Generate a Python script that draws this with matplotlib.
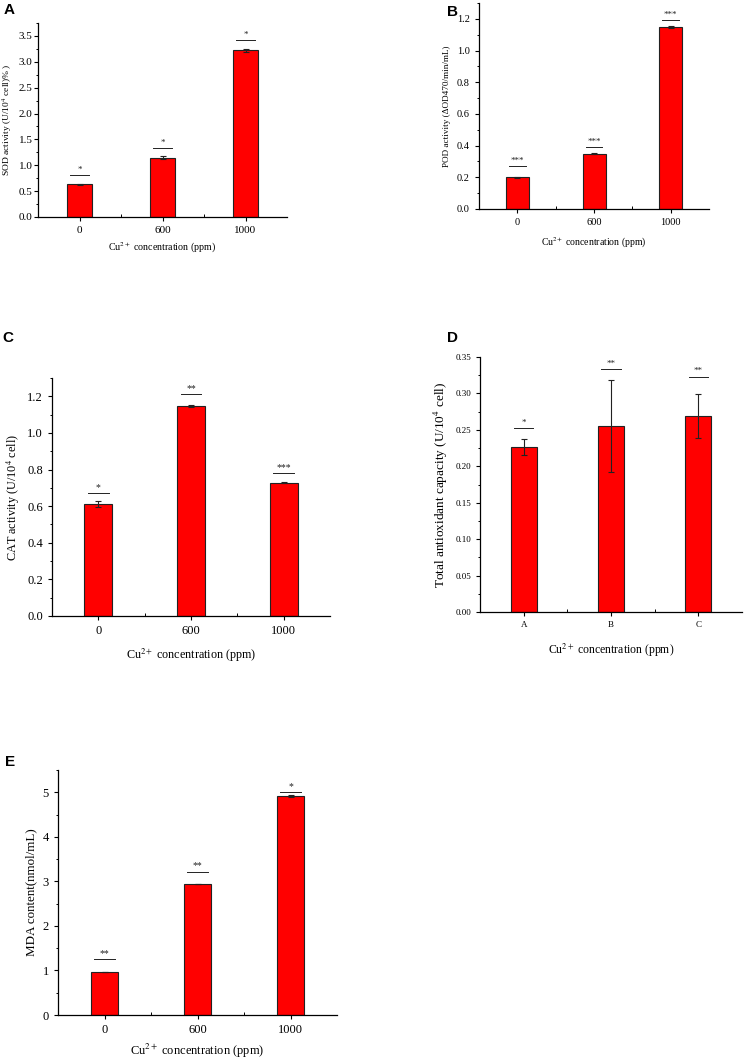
import matplotlib.pyplot as plt
from matplotlib.ticker import MultipleLocator, FixedLocator

plt.rcParams['font.family'] = ['Liberation Serif', 'DejaVu Serif']
plt.rcParams['mathtext.fontset'] = 'stix'

W, H = 744, 1060

# data
conc = ["0", "600", "1000"]
groups_d = ["A", "B", "C"]

sod = [0.63, 1.15, 3.22]
sod_err = [0.01, 0.025, 0.03]
sod_sig = [0.81, 1.34, 3.42]
sod_stars = ["*", "*", "*"]

pod = [0.20, 0.35, 1.15]
pod_err = [0.003, 0.003, 0.006]
pod_sig = [0.27, 0.39, 1.19]
pod_stars = ["***", "***", "***"]

cat = [0.612, 1.148, 0.728]
cat_err = [0.014, 0.004, 0.002]
cat_sig = [0.67, 1.21, 0.78]
cat_stars = ["*", "**", "***"]

tac = [0.226, 0.255, 0.269]
tac_err = [0.011, 0.063, 0.030]
tac_sig = [0.252, 0.333, 0.323]
tac_stars = ["*", "**", "**"]

mda = [0.97, 2.94, 4.91]
mda_err = [0.005, 0.01, 0.02]
mda_sig = [1.25, 3.22, 5.0]
mda_stars = ["**", "**", "*"]


def add_ax(l, r, t, b):
    return fig.add_axes([l / W, 1 - b / H, (r - l) / W, (b - t) / H])


def panel(ax, labels, vals, errs, sig, stars, ylim, major, ylabel,
          fs_tick, fs_lab, fs_ylab, fs_star, xpad=7, ypad=4, tpad=3.5):
    x = [1, 2, 3]
    ax.bar(x, vals, width=0.3, color="#ff0000", edgecolor="#222222", linewidth=0.8, zorder=2)
    ax.errorbar(x, vals, yerr=errs, fmt="none", ecolor="#222222", elinewidth=0.8,
                capsize=2, capthick=0.8, zorder=3)
    for xi, yi, s in zip(x, sig, stars):
        ax.plot([xi - 0.11, xi + 0.11], [yi, yi], color="#222222", lw=0.7)
        ax.text(xi, yi + 0.006 * ylim, s, ha="center", va="bottom", fontsize=fs_star, color="#222222")
    ax.set_xlim(0.5, 3.5)
    ax.set_ylim(0, ylim)
    ax.set_xticks(x)
    ax.set_xticklabels(labels)
    ax.xaxis.set_minor_locator(FixedLocator([1.5, 2.5]))
    ax.yaxis.set_major_locator(MultipleLocator(major))
    ax.yaxis.set_minor_locator(MultipleLocator(major / 2))
    ax.tick_params(axis="both", which="major", direction="out", length=3, width=0.8, labelsize=fs_tick)
    ax.tick_params(axis="y", which="major", pad=tpad)
    ax.tick_params(axis="y", which="minor", direction="out", length=1.8, width=0.7)
    ax.tick_params(axis="x", which="minor", direction="in", length=2, width=0.7)
    for s in ["top", "right"]:
        ax.spines[s].set_visible(False)
    for s in ["left", "bottom"]:
        ax.spines[s].set_linewidth(0.9)
    ax.set_xlabel("Cu$^{2+}$ concentration (ppm)", fontsize=fs_lab, labelpad=xpad)
    ax.set_ylabel(ylabel, fontsize=fs_ylab, labelpad=ypad)


fig = plt.figure(figsize=(W / 100, H / 100), dpi=100)

axA = add_ax(38, 287, 23, 217)
panel(axA, conc, sod, sod_err, sod_sig, sod_stars, 3.75, 0.5,
      "SOD activity (U/10$^4$ cell)% )", 8, 7.2, 6.8, 6.5, xpad=4, ypad=3, tpad=1)
axA.yaxis.set_major_formatter(plt.FormatStrFormatter("%.1f"))

axB = add_ax(479, 709, 3, 209)
panel(axB, conc, pod, pod_err, pod_sig, pod_stars, 1.3, 0.2,
      "POD activity (ΔOD470/min/mL)", 7.5, 7, 6.6, 6.5, xpad=6)
axB.yaxis.set_major_formatter(plt.FormatStrFormatter("%.1f"))

axC = add_ax(52, 330, 378, 616)
panel(axC, conc, cat, cat_err, cat_sig, cat_stars, 1.3, 0.2,
      "CAT activity (U/10$^4$ cell)", 9, 8.7, 8.8, 7)
axC.yaxis.set_major_formatter(plt.FormatStrFormatter("%.1f"))

axD = add_ax(480, 742, 357, 612)
panel(axD, groups_d, tac, tac_err, tac_sig, tac_stars, 0.35, 0.05,
      "Total antioxidant capacity (U/10$^4$ cell)", 6.5, 8.5, 9.5, 6.5, xpad=9)
axD.yaxis.set_major_formatter(plt.FormatStrFormatter("%.2f"))

axE = add_ax(58, 337, 770, 1015)
panel(axE, conc, mda, mda_err, mda_sig, mda_stars, 5.5, 1,
      "MDA content(nmol/mL)", 9, 9, 9.4, 7, xpad=4)

for lab, px, py in [("A", 9, 10), ("B", 452, 12), ("C", 8, 338), ("D", 453, 338), ("E", 10, 762)]:
    fig.text(px / W, 1 - py / H, lab, fontsize=11, fontweight="bold",
             family="Liberation Sans", ha="center", va="center")

fig.savefig("out.png", dpi=100)
